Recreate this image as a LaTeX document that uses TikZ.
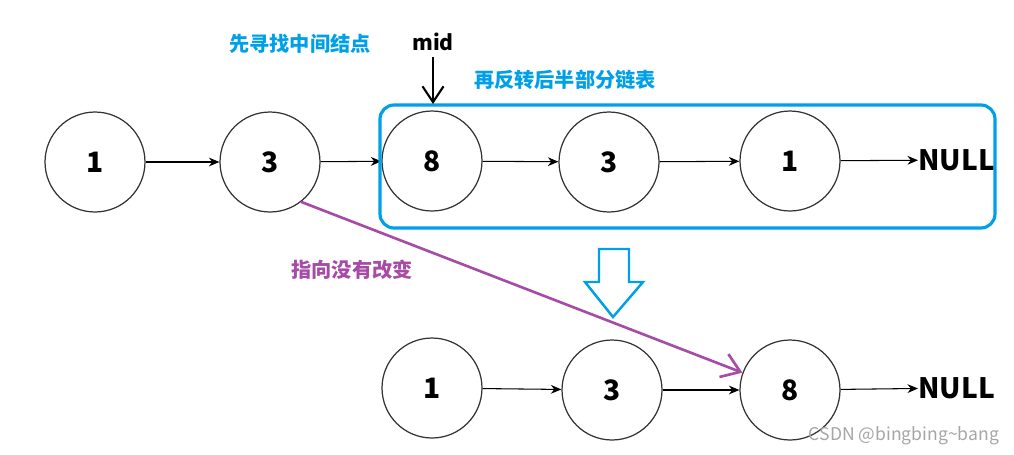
\documentclass[tikz,border=0pt]{standalone}
\usepackage{fontspec}
\setmainfont{Noto Sans CJK SC}
\usepackage{tikz}
\usetikzlibrary{arrows.meta}
\definecolor{cyanblue}{RGB}{0,160,233}
\definecolor{purp}{RGB}{166,75,166}

\begin{document}
\begin{tikzpicture}[x=0.02cm,y=-0.02cm,
    listnode/.style={circle,draw=black!80,line width=0.7pt,minimum size=2cm,inner sep=0pt,
      font=\bfseries\fontsize{16}{16}\selectfont},
    nullnode/.style={inner sep=0pt,font=\bfseries\fontsize{16}{16}\selectfont},
    link/.style={-{Stealth[length=6pt,width=5pt]},line width=0.6pt},
    bluetext/.style={text=cyanblue,font=\bfseries\fontsize{11.5}{11.5}\selectfont}]

          \useasboundingbox (0,0) rectangle (1014,454);

          % first list
          \node[listnode] (a1) at (95,162) {1};
          \node[listnode] (a2) at (270,162) {3};
          \node[listnode] (a3) at (432,161) {8};
          \node[listnode] (a4) at (609,162) {3};
          \node[listnode] (a5) at (790,161) {1};
          \node[nullnode,anchor=west] (anull) at (918,160) {NULL};

          \draw[link] (a1) -- (a2);
          \draw[link] (a2) -- (a3);
          \draw[link] (a3) -- (a4);
          \draw[link] (a4) -- (a5);
          \draw[link] (a5) -- (anull);

          % second half
          \draw[cyanblue,line width=1.8pt,rounded corners=8pt] (380,105) rectangle (995,228);
          \node[bluetext] (find) at (300,44) {先寻找中间结点};
          \node[bluetext] (rev) at (565,80) {再反转后半部分链表};

          \node[font=\bfseries\fontsize{12}{12}\selectfont] (mid) at (433,42) {mid};
          \coordinate (midtip) at (433,104);
          \draw[-{Straight Barb[length=9pt,width=12pt]},line width=1.2pt] (mid) -- (midtip);

          % hollow arrow
          \draw[cyanblue,line width=1.4pt] (599,249) -- (629,249) -- (629,282) -- (643,282)
               -- (613,317) -- (585,282) -- (599,282) -- cycle;

          % reversed list
          \node[listnode] (b1) at (432,388) {1};
          \node[listnode] (b2) at (612,390) {3};
          \node[listnode] (b3) at (790,390) {8};
          \node[nullnode,anchor=west] (bnull) at (918,388) {NULL};

          \draw[link] (b1) -- (b2);
          \draw[link] (b2) -- (b3);
          \draw[link] (b3) -- (bnull);

          % unchanged pointer
          \draw[purp,line width=1.5pt,-{Straight Barb[length=10pt,width=14pt]}] (a2.-52) -- (b3.160);
          \node[text=purp,font=\bfseries\fontsize{11.5}{11.5}\selectfont] (keep) at (352,270) {指向没有改变};

          \node[text=gray!70,font=\fontsize{10}{10}\selectfont] (mark) at (904,436) {CSDN @bingbing\textasciitilde bang};

\end{tikzpicture}
\end{document}
